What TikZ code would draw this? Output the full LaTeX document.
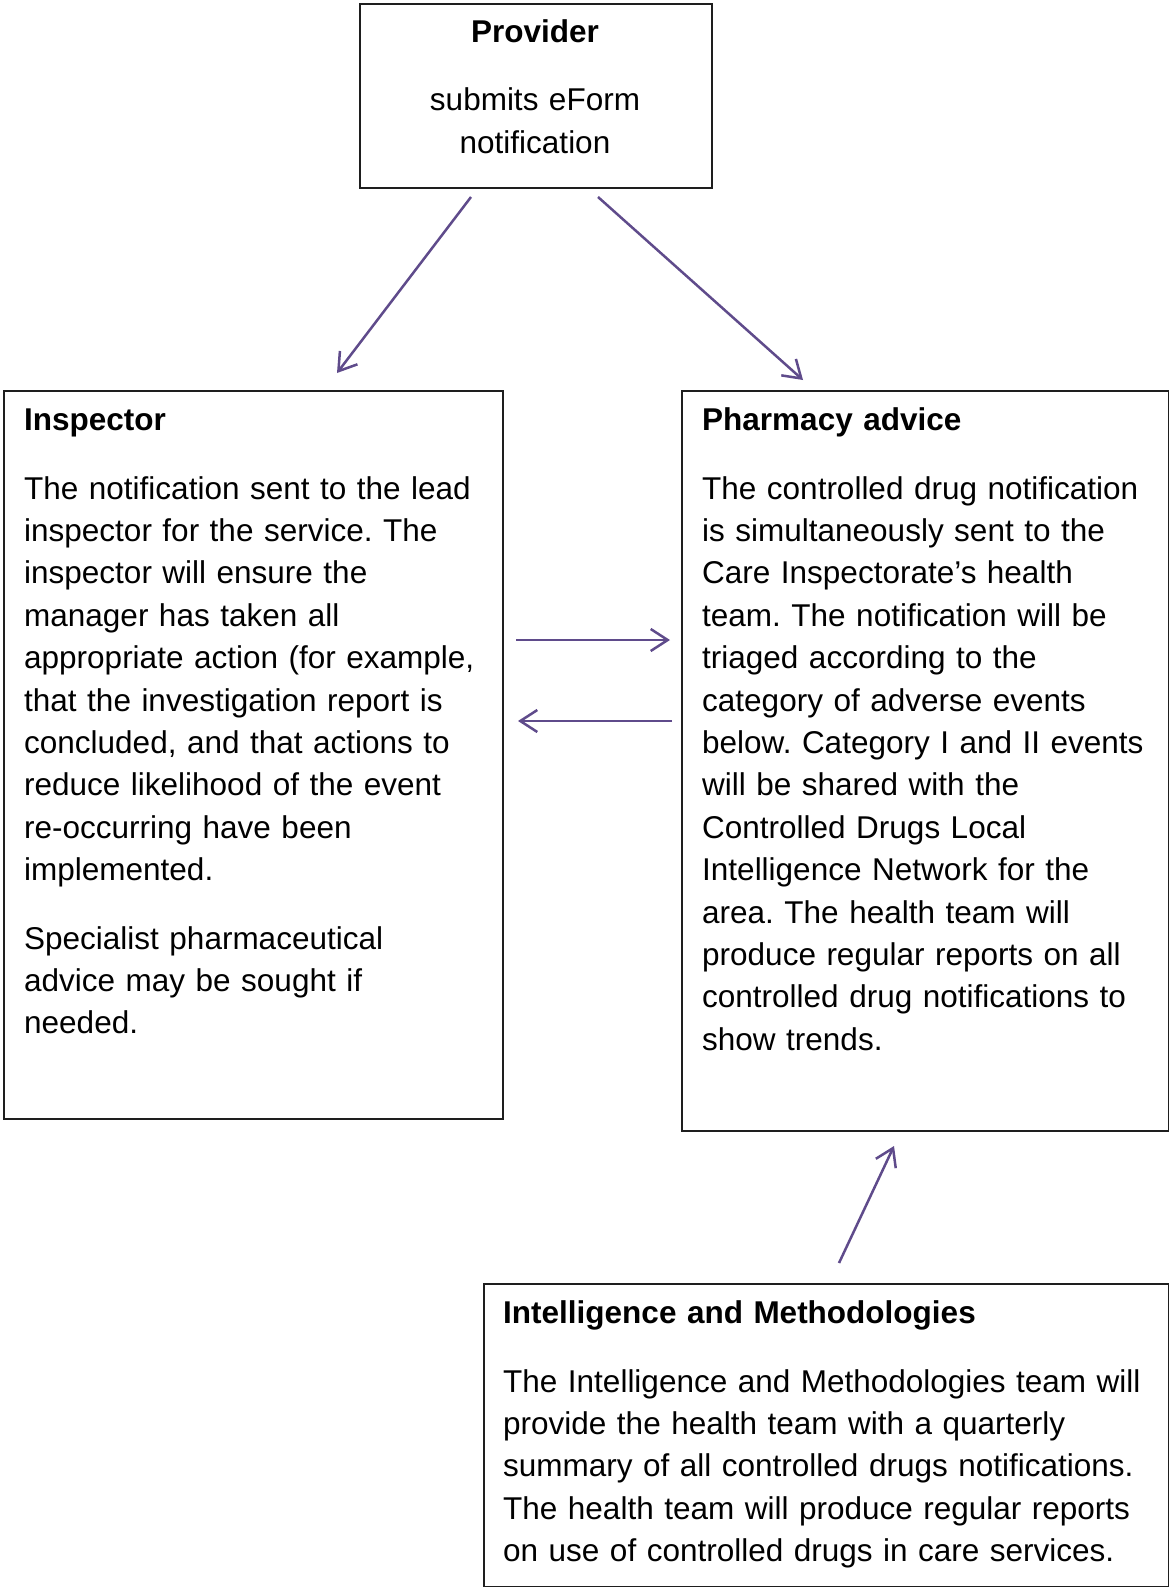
\documentclass[tikz,border=0pt]{standalone}
\usepackage{fontspec}
\setmainfont{Liberation Sans}
\usetikzlibrary{arrows.meta}
\definecolor{arrowpurple}{RGB}{95,75,139}
\definecolor{boxline}{RGB}{30,30,30}
\frenchspacing
\tikzset{
  box/.style={draw=boxline, line width=1.6pt, rectangle, inner sep=0pt, anchor=north west},
  boxtext/.style={inner sep=0pt, anchor=base west, align=left, font=\fontsize{31.5}{42.4}\selectfont\frenchspacing},
  flow/.style={draw=arrowpurple, line width=2.5pt, -{Straight Barb[length=17pt,width=22pt,line width=2.5pt]}}
}
\begin{document}
\begin{tikzpicture}[x=1pt,y=-1pt]
\useasboundingbox (0,0) rectangle (1169,1587);
% boxes
\node[box, minimum width=352pt, minimum height=184pt] (prov) at (359,3) {};
\node[box, minimum width=499pt, minimum height=728pt] (insp) at (3,390) {};
\node[box, minimum width=487pt, minimum height=740pt] (pharm) at (681,390) {};
\node[box, minimum width=685pt, minimum height=303pt] (intel) at (483,1283) {};
% texts
\node[inner sep=0pt, anchor=base, align=center, text width=340pt, font=\fontsize{31.5}{42.4}\selectfont] (provtxt) at (535,43)
  {\textbf{Provider}\\[25.6pt]submits eForm\\notification};
\node[boxtext, text width=475pt] (insptxt) at (24,430)
  {\textbf{Inspector}\\[26.6pt]
   The notification sent to the lead\\
   inspector for the service. The\\
   inspector will ensure the\\
   manager has taken all\\
   appropriate action (for example,\\
   that the investigation report is\\
   concluded, and that actions to\\
   reduce likelihood of the event\\
   re-occurring have been\\
   implemented.\\[26pt]
   Specialist pharmaceutical\\
   advice may be sought if\\
   needed.};
\node[boxtext, text width=465pt] (pharmtxt) at (702,430)
  {\textbf{Pharmacy advice}\\[26.6pt]
   The controlled drug notification\\
   is simultaneously sent to the\\
   Care Inspectorate’s health\\
   team. The notification will be\\
   triaged according to the\\
   category of adverse events\\
   below. Category I and II events\\
   will be shared with the\\
   Controlled Drugs Local\\
   Intelligence Network for the\\
   area. The health team will\\
   produce regular reports on all\\
   controlled drug notifications to\\
   show trends.};
\node[boxtext, text width=660pt] (inteltxt) at (503,1323)
  {\textbf{Intelligence and Methodologies}\\[26.6pt]
   The Intelligence and Methodologies team will\\
   provide the health team with a quarterly\\
   summary of all controlled drugs notifications.\\
   The health team will produce regular reports\\
   on use of controlled drugs in care services.};
% connector end points
\coordinate (a1s) at (471,197);
\coordinate (a1e) at (337,373);
\coordinate (a2s) at (598,197);
\coordinate (a2e) at (803,380);
\coordinate (a3s) at (516,640);
\coordinate (a3e) at (670,640);
\coordinate (a4s) at (672,721);
\coordinate (a4e) at (518,721);
\coordinate (a5s) at (839,1263);
\coordinate (a5e) at (894,1146);
% connectors
\draw[flow] (a1s) -- (a1e);
\draw[flow] (a2s) -- (a2e);
\draw[flow] (a3s) -- (a3e);
\draw[flow] (a4s) -- (a4e);
\draw[flow] (a5s) -- (a5e);
\end{tikzpicture}
\end{document}
